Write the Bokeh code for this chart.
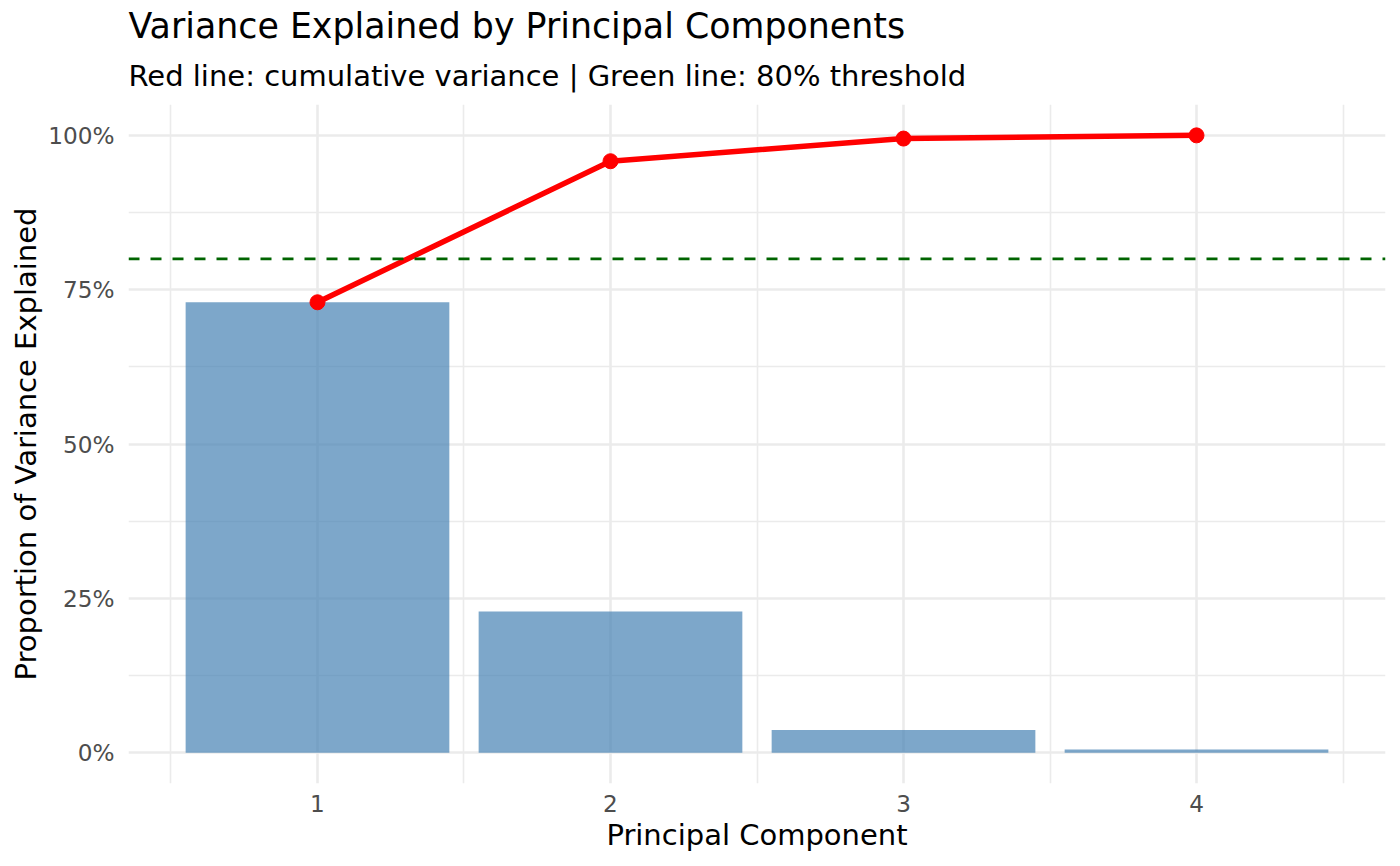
from bokeh.plotting import figure
from bokeh.models import Span, Title, FixedTicker, Range1d
from bokeh.embed import file_html
from bokeh.resources import INLINE

# ---- data ----
components = [1, 2, 3, 4]
prop_var = [0.7296, 0.2285, 0.0367, 0.0052]
cum_var = [0.7296, 0.9581, 0.9948, 1.0]
threshold = 0.8
x_ticks = [1, 2, 3, 4]
x_minor = [0.5, 1.5, 2.5, 3.5, 4.5]
y_ticks = [0, 0.25, 0.5, 0.75, 1.0]
y_minor = [0.125, 0.375, 0.625, 0.875]
y_labels = ["0%", "25%", "50%", "75%", "100%"]
title_text = "Variance Explained by Principal Components"
subtitle_text = "Red line: cumulative variance | Green line: 80% threshold"
x_label = "Principal Component"
y_label = "Proportion of Variance Explained"

FONT = "DejaVu Sans"

p = figure(width=1392, height=858, output_backend="svg", toolbar_location=None,
           x_range=Range1d(0.355, 4.645), y_range=Range1d(-0.05, 1.05),
           min_border_left=128, min_border_right=7, min_border_top=104,
           min_border_bottom=75, title=None)
p.outline_line_color = None
p.background_fill_color = "white"
p.border_fill_color = "white"

# titles (subtitle first = closest to plot)
sub = Title(text=subtitle_text, text_font=FONT, text_font_size="29px",
            text_font_style="normal", text_color="black", align="left",
            standoff=23, offset=0)
p.add_layout(sub, "above")
main = Title(text=title_text, text_font=FONT, text_font_size="34.8px",
             text_font_style="normal", text_color="black", align="left",
             standoff=0, offset=0)
p.add_layout(main, "above")

# axes
p.xaxis.ticker = FixedTicker(ticks=x_ticks, minor_ticks=x_minor)
p.yaxis.ticker = FixedTicker(ticks=y_ticks, minor_ticks=y_minor)
p.yaxis.major_label_overrides = {t: l for t, l in zip(y_ticks, y_labels)}
p.xaxis.major_label_overrides = {t: str(t) for t in x_ticks}
for ax in (p.xaxis, p.yaxis):
    ax.axis_line_color = None
    ax.major_tick_line_color = None
    ax.minor_tick_line_color = None
    ax.major_tick_out = 0
    ax.minor_tick_out = 0
    ax.major_label_text_font = FONT
    ax.major_label_text_font_size = "23.2px"
    ax.major_label_text_color = "#4D4D4D"
    ax.axis_label_text_font = FONT
    ax.axis_label_text_font_size = "29px"
    ax.axis_label_text_font_style = "normal"
    ax.axis_label_text_color = "black"
p.xaxis.axis_label = x_label
p.yaxis.axis_label = y_label
p.xaxis.major_label_standoff = 11
p.xaxis.axis_label_standoff = 3
p.yaxis.major_label_standoff = 14
p.yaxis.axis_label_standoff = 2

# grids
for g in (p.xgrid, p.ygrid):
    g.grid_line_color = "#EBEBEB"
    g.grid_line_width = 2.6
    g.minor_grid_line_color = "#EBEBEB"
    g.minor_grid_line_width = 1.6

# bars
p.vbar(x=components, top=prop_var, bottom=0, width=0.9,
       fill_color="steelblue", fill_alpha=0.7, line_color=None)
# cumulative line + points
p.line(components, cum_var, line_color="red", line_width=5.5)
p.scatter(components, cum_var, size=15, fill_color="red", line_color="red")
# threshold
p.add_layout(Span(location=threshold, dimension="width", line_color="darkgreen",
                  line_dash="11 11", line_width=2.8))

open("out.html", "w").write(file_html(p, INLINE))
